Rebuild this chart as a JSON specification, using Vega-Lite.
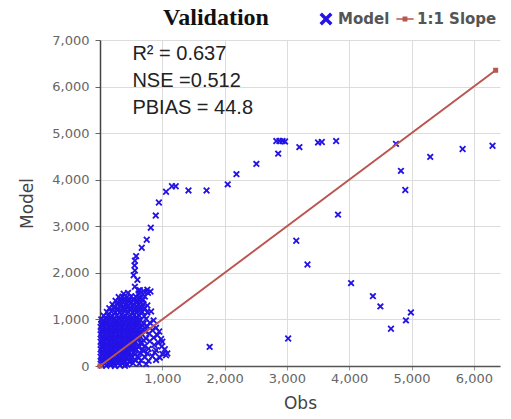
{
  "$schema": "https://vega.github.io/schema/vega-lite/v6.json",
  "width": 400,
  "height": 326,
  "autosize": {"type": "none"},
  "padding": {"left": 100, "top": 40, "right": 11, "bottom": 53},
  "background": "white",
  "config": {"view": {"stroke": null}},
  "title": {"text": "Validation", "font": "Liberation Serif", "fontSize": 24, "fontWeight": "bold", "color": "#111", "anchor": "middle", "dx": -84, "offset": -20, "frame": "group"},
  "datasets": {
    "scatter": [
      {"obs":2830,"model":4830},{"obs":2880,"model":4830},{"obs":2930,"model":4830},{"obs":2970,"model":4820},{"obs":2860,"model":4560},{"obs":3200,"model":4700},{"obs":3500,"model":4800},{"obs":3560,"model":4810},{"obs":3790,"model":4830},{"obs":4750,"model":4770},{"obs":4830,"model":4190},{"obs":4900,"model":3780},{"obs":5300,"model":4490},{"obs":5820,"model":4660},{"obs":6300,"model":4730},{"obs":3820,"model":3250},{"obs":3150,"model":2690},{"obs":3330,"model":2180},{"obs":2510,"model":4340},{"obs":2190,"model":4120},{"obs":2050,"model":3900},{"obs":1710,"model":3770},{"obs":1420,"model":3770},{"obs":1215,"model":3860},{"obs":1155,"model":3860},{"obs":1060,"model":3740},{"obs":945,"model":3510},{"obs":895,"model":3230},{"obs":815,"model":2970},{"obs":750,"model":2710},{"obs":670,"model":2540},{"obs":580,"model":2360},{"obs":560,"model":2260},{"obs":555,"model":2160},{"obs":4030,"model":1780},{"obs":4380,"model":1500},{"obs":4500,"model":1280},{"obs":4670,"model":800},{"obs":4910,"model":980},{"obs":4990,"model":1150},{"obs":3020,"model":590},{"obs":1760,"model":410},
      {"obs":560,"model":2050},{"obs":540,"model":1950},{"obs":600,"model":1850},{"obs":560,"model":1700},{"obs":620,"model":1620},
      {"obs":640,"model":1630},{"obs":700,"model":1610},{"obs":760,"model":1640},{"obs":810,"model":1600},
      {"obs":380,"model":1550},{"obs":450,"model":1570},{"obs":620,"model":1560},{"obs":690,"model":1540},{"obs":770,"model":1570},
      {"obs":300,"model":1480},{"obs":360,"model":1490},{"obs":430,"model":1470},{"obs":500,"model":1500},{"obs":580,"model":1480},{"obs":650,"model":1460},{"obs":720,"model":1490},
      {"obs":250,"model":1400},{"obs":320,"model":1390},{"obs":390,"model":1410},{"obs":460,"model":1400},{"obs":530,"model":1420},{"obs":600,"model":1390},{"obs":680,"model":1410},
      {"obs":200,"model":1320},{"obs":270,"model":1330},{"obs":340,"model":1310},{"obs":410,"model":1320},{"obs":480,"model":1340},{"obs":550,"model":1310},{"obs":620,"model":1330},{"obs":700,"model":1320},{"obs":760,"model":1300},
      {"obs":150,"model":1240},{"obs":220,"model":1250},{"obs":290,"model":1230},{"obs":360,"model":1240},{"obs":430,"model":1260},{"obs":500,"model":1240},{"obs":570,"model":1220},{"obs":640,"model":1250},{"obs":720,"model":1240},
      {"obs":110,"model":1160},{"obs":180,"model":1170},{"obs":250,"model":1150},{"obs":320,"model":1160},{"obs":390,"model":1180},{"obs":460,"model":1160},{"obs":530,"model":1140},{"obs":600,"model":1170},{"obs":680,"model":1160},{"obs":760,"model":1150},{"obs":820,"model":1170},
      {"obs":60,"model":1080},{"obs":130,"model":1090},{"obs":200,"model":1070},{"obs":270,"model":1080},{"obs":340,"model":1100},{"obs":410,"model":1080},{"obs":480,"model":1060},{"obs":550,"model":1090},{"obs":630,"model":1080},{"obs":710,"model":1070},
      {"obs":20,"model":1000},{"obs":90,"model":1010},{"obs":160,"model":990},{"obs":230,"model":1000},{"obs":300,"model":1020},{"obs":370,"model":1000},{"obs":440,"model":980},{"obs":510,"model":1010},{"obs":580,"model":1000},{"obs":650,"model":990},{"obs":740,"model":1010},{"obs":860,"model":980},
      {"obs":40,"model":920},{"obs":110,"model":930},{"obs":180,"model":910},{"obs":250,"model":920},{"obs":320,"model":940},{"obs":390,"model":920},{"obs":460,"model":900},{"obs":530,"model":930},{"obs":610,"model":920},{"obs":700,"model":910},{"obs":800,"model":930},
      {"obs":10,"model":840},{"obs":80,"model":850},{"obs":150,"model":830},{"obs":220,"model":840},{"obs":290,"model":860},{"obs":360,"model":840},{"obs":430,"model":820},{"obs":500,"model":850},{"obs":570,"model":840},{"obs":650,"model":830},{"obs":760,"model":850},{"obs":900,"model":820},
      {"obs":40,"model":760},{"obs":110,"model":770},{"obs":180,"model":750},{"obs":250,"model":760},{"obs":320,"model":780},{"obs":390,"model":760},{"obs":460,"model":740},{"obs":540,"model":770},{"obs":620,"model":760},{"obs":720,"model":750},{"obs":840,"model":770},{"obs":950,"model":740},
      {"obs":10,"model":680},{"obs":80,"model":690},{"obs":150,"model":670},{"obs":220,"model":680},{"obs":290,"model":700},{"obs":360,"model":680},{"obs":430,"model":660},{"obs":500,"model":690},{"obs":580,"model":680},{"obs":680,"model":670},{"obs":790,"model":690},{"obs":920,"model":660},
      {"obs":40,"model":600},{"obs":110,"model":610},{"obs":180,"model":590},{"obs":250,"model":600},{"obs":320,"model":620},{"obs":390,"model":600},{"obs":460,"model":580},{"obs":530,"model":610},{"obs":620,"model":600},{"obs":740,"model":590},{"obs":860,"model":610},{"obs":980,"model":580},
      {"obs":10,"model":520},{"obs":80,"model":530},{"obs":150,"model":510},{"obs":220,"model":520},{"obs":290,"model":540},{"obs":360,"model":520},{"obs":430,"model":500},{"obs":500,"model":530},{"obs":570,"model":520},{"obs":660,"model":510},{"obs":800,"model":530},{"obs":940,"model":500},{"obs":1000,"model":520},
      {"obs":40,"model":440},{"obs":110,"model":450},{"obs":180,"model":430},{"obs":250,"model":440},{"obs":320,"model":460},{"obs":390,"model":440},{"obs":460,"model":420},{"obs":540,"model":450},{"obs":620,"model":440},{"obs":720,"model":430},{"obs":870,"model":450},{"obs":990,"model":420},
      {"obs":10,"model":360},{"obs":80,"model":370},{"obs":150,"model":350},{"obs":220,"model":360},{"obs":290,"model":380},{"obs":360,"model":360},{"obs":430,"model":340},{"obs":500,"model":370},{"obs":580,"model":360},{"obs":680,"model":350},{"obs":780,"model":370},{"obs":900,"model":340},{"obs":1040,"model":360},
      {"obs":40,"model":280},{"obs":110,"model":290},{"obs":180,"model":270},{"obs":250,"model":280},{"obs":320,"model":300},{"obs":390,"model":280},{"obs":460,"model":260},{"obs":540,"model":290},{"obs":640,"model":280},{"obs":760,"model":270},{"obs":880,"model":290},{"obs":1000,"model":260},{"obs":1080,"model":270},
      {"obs":10,"model":200},{"obs":80,"model":210},{"obs":150,"model":190},{"obs":220,"model":200},{"obs":290,"model":220},{"obs":360,"model":200},{"obs":430,"model":180},{"obs":510,"model":210},{"obs":600,"model":200},{"obs":720,"model":190},{"obs":840,"model":210},{"obs":960,"model":180},{"obs":1060,"model":230},
      {"obs":40,"model":120},{"obs":110,"model":130},{"obs":180,"model":110},{"obs":250,"model":120},{"obs":320,"model":140},{"obs":390,"model":120},{"obs":470,"model":100},{"obs":560,"model":130},{"obs":660,"model":120},{"obs":780,"model":110},{"obs":900,"model":130},
      {"obs":10,"model":50},{"obs":80,"model":60},{"obs":150,"model":40},{"obs":220,"model":50},{"obs":290,"model":70},{"obs":360,"model":50},{"obs":440,"model":30},{"obs":530,"model":60},{"obs":630,"model":50},{"obs":740,"model":40},
      {"obs":30,"model":10},{"obs":100,"model":5},{"obs":170,"model":15},{"obs":240,"model":0},{"obs":320,"model":10},{"obs":400,"model":5},
      {"obs":330,"model":1440},{"obs":400,"model":1450},{"obs":470,"model":1430},{"obs":540,"model":1440},{"obs":610,"model":1450},{"obs":690,"model":1430},
      {"obs":290,"model":1360},{"obs":360,"model":1370},{"obs":430,"model":1350},{"obs":500,"model":1360},{"obs":570,"model":1380},{"obs":640,"model":1360},
      {"obs":240,"model":1280},{"obs":310,"model":1290},{"obs":380,"model":1270},{"obs":450,"model":1280},{"obs":520,"model":1300},{"obs":590,"model":1280},{"obs":660,"model":1270},
      {"obs":200,"model":1200},{"obs":270,"model":1210},{"obs":340,"model":1190},{"obs":410,"model":1200},{"obs":480,"model":1220},{"obs":550,"model":1200},{"obs":620,"model":1190},
      {"obs":95,"model":1040},{"obs":165,"model":1050},{"obs":235,"model":1030},{"obs":305,"model":1040},{"obs":375,"model":1060},{"obs":445,"model":1040},{"obs":515,"model":1030},{"obs":585,"model":1050},
      {"obs":55,"model":960},{"obs":125,"model":970},{"obs":195,"model":950},{"obs":265,"model":960},{"obs":335,"model":980},{"obs":405,"model":960},{"obs":475,"model":940},{"obs":545,"model":970},{"obs":615,"model":960},
      {"obs":25,"model":880},{"obs":95,"model":890},{"obs":165,"model":870},{"obs":235,"model":880},{"obs":305,"model":900},{"obs":375,"model":880},{"obs":445,"model":860},{"obs":515,"model":890},{"obs":585,"model":880},{"obs":680,"model":870},
      {"obs":45,"model":800},{"obs":115,"model":810},{"obs":185,"model":790},{"obs":255,"model":800},{"obs":325,"model":820},{"obs":395,"model":800},{"obs":465,"model":780},{"obs":535,"model":810},{"obs":610,"model":800},{"obs":690,"model":790},
      {"obs":25,"model":720},{"obs":95,"model":730},{"obs":165,"model":710},{"obs":235,"model":720},{"obs":305,"model":740},{"obs":375,"model":720},{"obs":445,"model":700},{"obs":515,"model":730},{"obs":595,"model":720},{"obs":650,"model":710},
      {"obs":45,"model":640},{"obs":115,"model":650},{"obs":185,"model":630},{"obs":255,"model":640},{"obs":325,"model":660},{"obs":395,"model":640},{"obs":465,"model":620},{"obs":545,"model":650},{"obs":640,"model":640},
      {"obs":25,"model":560},{"obs":95,"model":570},{"obs":165,"model":550},{"obs":235,"model":560},{"obs":305,"model":580},{"obs":375,"model":560},{"obs":445,"model":540},{"obs":515,"model":570},{"obs":600,"model":560},{"obs":700,"model":550},
      {"obs":45,"model":480},{"obs":115,"model":490},{"obs":185,"model":470},{"obs":255,"model":480},{"obs":325,"model":500},{"obs":395,"model":480},{"obs":465,"model":460},{"obs":545,"model":490},{"obs":660,"model":480},
      {"obs":25,"model":400},{"obs":95,"model":410},{"obs":165,"model":390},{"obs":235,"model":400},{"obs":305,"model":420},{"obs":375,"model":400},{"obs":445,"model":380},{"obs":520,"model":410},{"obs":620,"model":400},
      {"obs":45,"model":320},{"obs":115,"model":330},{"obs":185,"model":310},{"obs":255,"model":320},{"obs":325,"model":340},{"obs":395,"model":320},{"obs":465,"model":300},{"obs":560,"model":330},{"obs":700,"model":320},
      {"obs":25,"model":240},{"obs":95,"model":250},{"obs":165,"model":230},{"obs":235,"model":240},{"obs":305,"model":260},{"obs":375,"model":240},{"obs":445,"model":220},{"obs":560,"model":250},
      {"obs":45,"model":160},{"obs":115,"model":170},{"obs":185,"model":150},{"obs":255,"model":160},{"obs":325,"model":180},{"obs":395,"model":160},{"obs":500,"model":150},{"obs":620,"model":170},
      {"obs":25,"model":80},{"obs":95,"model":90},{"obs":165,"model":70},{"obs":235,"model":80},{"obs":305,"model":100},{"obs":375,"model":80},{"obs":480,"model":90}
    ],
    "slope": [{"obs":0,"model":0},{"obs":6350,"model":6350}],
    "stats": [{"label":"R² = 0.637\nNSE =0.512\nPBIAS = 44.8"}]
  },
  "layer": [
    {
      "data": {"name": "scatter"},
      "mark": {"type": "point", "filled": true, "size": 85, "opacity": 1},
      "encoding": {
        "x": {"field": "obs", "type": "quantitative", "scale": {"domain": [0, 6420], "nice": false},
          "axis": {"values": [1000,2000,3000,4000,5000,6000], "format": ",.0f", "title": "Obs", "labelFont": "DejaVu Sans", "labelFontSize": 13, "labelColor": "#666", "grid": true, "gridColor": "#dcdcdc", "domainColor": "#555", "domainWidth": 1.5, "tickColor": "#999", "tickSize": 4, "labelPadding": 2, "titleFont": "DejaVu Sans", "titleFontSize": 17, "titleFontWeight": "normal", "titleColor": "#444", "titlePadding": 10}},
        "y": {"field": "model", "type": "quantitative", "scale": {"domain": [0, 7000], "nice": false},
          "axis": {"values": [0,1000,2000,3000,4000,5000,6000,7000], "format": ",.0f", "title": "Model", "labelFont": "DejaVu Sans", "labelFontSize": 13, "labelColor": "#666", "grid": true, "gridColor": "#dcdcdc", "domainColor": "#444", "domainWidth": 1.5, "tickColor": "#666", "tickSize": 5, "labelPadding": 6, "titleFont": "DejaVu Sans", "titleFontSize": 17, "titleFontWeight": "normal", "titleColor": "#444", "titlePadding": 15}},
        "color": {"datum": "Model", "type": "nominal", "scale": {"domain": ["Model", "1:1 Slope"], "range": ["#2313e6", "#bb5550"]},
          "legend": {"title": null, "orient": "none", "legendX": 217, "legendY": -30, "direction": "horizontal", "symbolSize": 300, "labelFont": "DejaVu Sans", "labelFontSize": 15, "labelFontWeight": "bold", "labelColor": "#555", "columnPadding": 6, "labelOffset": 3, "symbolStrokeWidth": 0}},
        "shape": {"datum": "Model", "type": "nominal", "scale": {"domain": ["Model", "1:1 Slope"], "range": ["M-0.75,-0.47L-0.47,-0.75L0,-0.28L0.47,-0.75L0.75,-0.47L0.28,0L0.75,0.47L0.47,0.75L0,0.28L-0.47,0.75L-0.75,0.47L-0.28,0Z", "M-1,-0.1L1,-0.1L1,0.1L-1,0.1Z M-0.28,-0.28L0.28,-0.28L0.28,0.28L-0.28,0.28Z"]},
          "legend": {"title": null, "orient": "none", "legendX": 217, "legendY": -30, "direction": "horizontal", "symbolSize": 300, "labelFont": "DejaVu Sans", "labelFontSize": 15, "labelFontWeight": "bold", "labelColor": "#555", "columnPadding": 6, "labelOffset": 3, "symbolStrokeWidth": 0}}
      }
    },
    {
      "data": {"name": "slope"},
      "mark": {"type": "line", "color": "#bb5550", "strokeWidth": 2, "point": {"filled": true, "size": 25, "shape": "square", "color": "#bb5550"}},
      "encoding": {
        "x": {"field": "obs", "type": "quantitative"},
        "y": {"field": "model", "type": "quantitative"}
      }
    },
    {
      "data": {"name": "stats"},
      "mark": {"type": "text", "align": "left", "baseline": "top", "font": "Liberation Sans", "fontSize": 20, "color": "#222", "lineBreak": "\n", "lineHeight": 27},
      "encoding": {
        "x": {"datum": 520, "type": "quantitative"},
        "y": {"datum": 6920, "type": "quantitative"},
        "text": {"field": "label"}
      }
    }
  ]
}
